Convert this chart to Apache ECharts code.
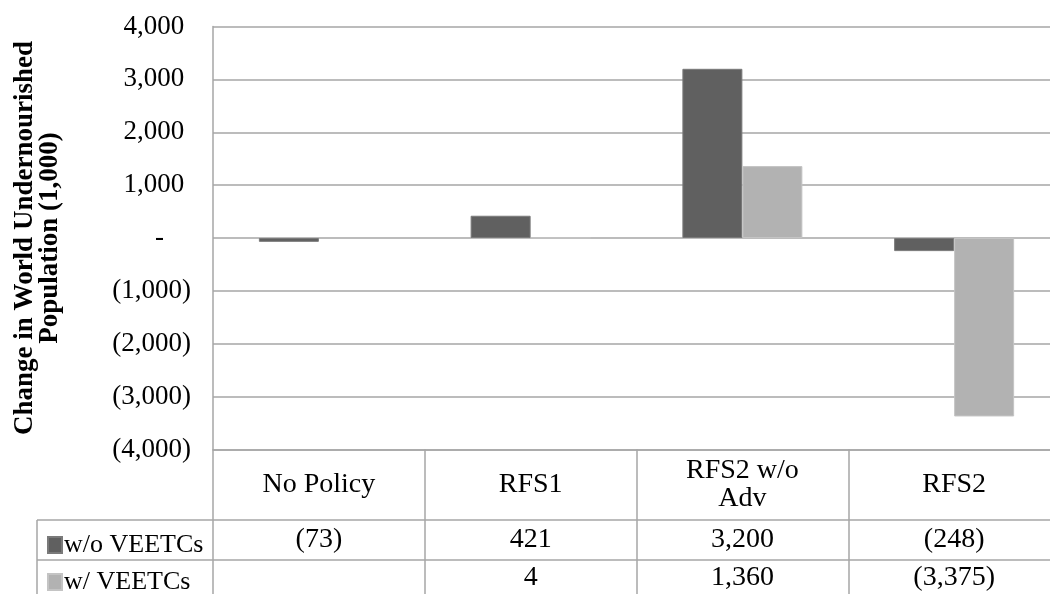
<!DOCTYPE html>
<html>
<head>
<meta charset="utf-8">
<script src="https://cdn.jsdelivr.net/npm/echarts@6/dist/echarts.min.js"></script>
<style>
  html, body { margin: 0; padding: 0; background: #ffffff; overflow: hidden; }
  #chart { width: 1062px; height: 594px; }
</style>
</head>
<body>
<div id="chart"></div>
<script>
// Scenario categories and the two policy series (thousands of people)
const categories = ['No Policy', 'RFS1', 'RFS2 w/o\nAdv', 'RFS2'];
const seriesNames = ['w/o VEETCs', 'w/ VEETCs'];
const withoutVeetcs = [-73, 421, 3200, -248];
const withVeetcs = [null, 4, 1360, -3375];
const yMin = -4000;
const yMax = 4000;
const yStep = 1000;

const FONT = '"Liberation Serif", "Times New Roman", serif';
const LINE = '#a6a6a6';
const DARK = '#606060';
const LIGHT = '#b2b2b2';

// Accounting-style number: thousands separators, negatives in parentheses
function acct(v) {
  if (v === null || v === undefined) return '';
  const s = Math.abs(v).toLocaleString('en-US');
  return v < 0 ? '(' + s + ')' : s;
}

function yLabel(v) {
  if (v === 0) return '-    ';
  return v < 0 ? acct(v) : acct(v) + ' ';
}

const chart = echarts.init(document.getElementById('chart'), null, { renderer: 'canvas' });

// Extra category axes whose labels form the value rows of the data table
const tableAxis = (values, margin) => ({
  type: 'category',
  data: categories,
  position: 'bottom',
  axisLine: { show: false },
  axisTick: { show: false },
  splitLine: { show: false },
  axisLabel: {
    interval: 0,
    margin: margin,
    verticalAlign: 'middle',
    fontFamily: FONT,
    fontSize: 28,
    color: '#000',
    formatter: (val, i) => acct(values[i])
  }
});

// One legend per table row, acting as the row header with its colour key
const rowLegend = (name, top) => ({
  orient: 'vertical',
  left: 42,
  top: top,
  icon: 'rect',
  itemWidth: 14,
  itemHeight: 16,
  selectedMode: false,
  data: [name],
  textStyle: { fontFamily: FONT, fontSize: 26, lineHeight: 26, color: '#000', padding: [0, 0, 0, -3] }
});

chart.setOption({
  animation: false,
  backgroundColor: '#ffffff',
  grid: { left: 213, top: 26.5, width: 847, height: 423, containLabel: false },
  legend: [rowLegend(seriesNames[0], 527), rowLegend(seriesNames[1], 564)],
  xAxis: [
    {
      type: 'category',
      data: categories,
      position: 'bottom',
      axisLine: { onZero: false, lineStyle: { color: LINE, width: 1.5 } },
      axisTick: { show: true, interval: 0, length: 145, lineStyle: { color: LINE, width: 1.5 } },
      splitLine: { show: false },
      axisLabel: {
        interval: 0,
        margin: 35,
        verticalAlign: 'middle',
        fontFamily: FONT,
        fontSize: 28,
        lineHeight: 28,
        color: '#000'
      }
    },
    tableAxis(withoutVeetcs, 90),
    tableAxis(withVeetcs, 128)
  ],
  yAxis: {
    type: 'value',
    min: yMin,
    max: yMax,
    interval: yStep,
    name: 'Change in World Undernourished\nPopulation (1,000)',
    nameLocation: 'middle',
    nameGap: 150,
    nameTextStyle: { fontFamily: FONT, fontSize: 27, fontWeight: 'bold', lineHeight: 25, color: '#000' },
    axisLine: { show: true, lineStyle: { color: LINE, width: 1.5 } },
    axisTick: { show: false },
    splitLine: { show: true, lineStyle: { color: LINE, width: 1.5 } },
    axisLabel: {
      margin: 22,
      fontFamily: FONT,
      fontSize: 27,
      color: '#000',
      formatter: yLabel
    }
  },
  series: [
    {
      name: seriesNames[0],
      type: 'bar',
      data: withoutVeetcs,
      barWidth: 60,
      barGap: '0%',
      itemStyle: { color: DARK, borderColor: '#7a7a7a', borderWidth: 1 }
    },
    {
      name: seriesNames[1],
      type: 'bar',
      data: withVeetcs,
      barWidth: 60,
      barGap: '0%',
      itemStyle: { color: LIGHT, borderColor: '#c4c4c4', borderWidth: 1 }
    }
  ],
  // Row rules of the data table below the plot
  graphic: [
    { type: 'line', shape: { x1: 37, y1: 520, x2: 1062, y2: 520 }, style: { stroke: LINE, lineWidth: 1.5 } },
    { type: 'line', shape: { x1: 37, y1: 560, x2: 1062, y2: 560 }, style: { stroke: LINE, lineWidth: 1.5 } },
    { type: 'line', shape: { x1: 37, y1: 520, x2: 37, y2: 594 }, style: { stroke: LINE, lineWidth: 1.5 } }
  ]
});
</script>
</body>
</html>
